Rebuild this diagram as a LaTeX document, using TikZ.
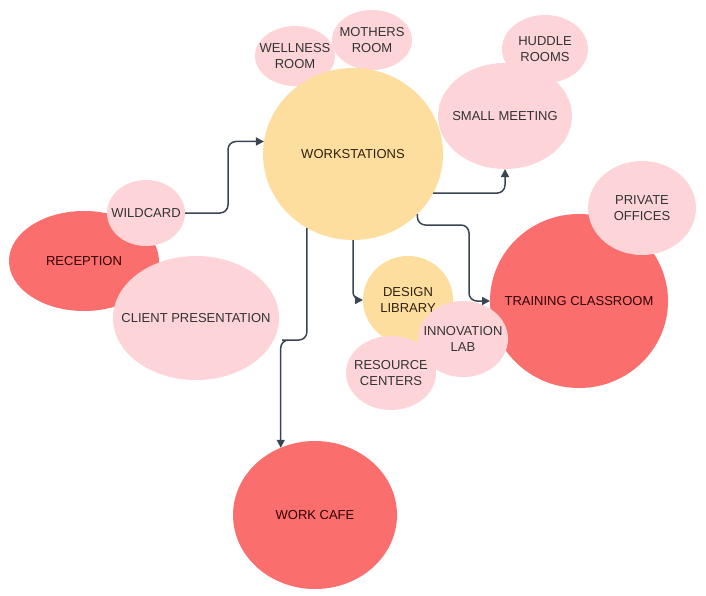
\documentclass[tikz,border=0pt]{standalone}
\usepackage{fontspec}
\setmainfont{Liberation Sans}
\usetikzlibrary{shapes.geometric,arrows.meta}
\definecolor{hotred}{HTML}{FA6E6E}
\definecolor{softpink}{HTML}{FDD5D8}
\definecolor{peach}{HTML}{FDDE9F}
\definecolor{linkgray}{HTML}{3B4452}
\tikzset{
  room/.style={ellipse, inner sep=0pt, outer sep=0pt},
  roomtext/.style={align=center, inner sep=0pt, font=\fontsize{13}{16}\selectfont},
  redroom/.style={room, fill=hotred, label={[roomtext, text=black!80!red]center:#1}},
  pinkroom/.style={room, fill=softpink, label={[roomtext, text=black!80]center:#1}},
  peachroom/.style={room, fill=peach, label={[roomtext, text=black!75!brown]center:#1}},
  link/.style={draw=linkgray, line width=1.5pt, rounded corners=8pt, -{Triangle[length=8pt,width=8pt]}}
}
\begin{document}
\begin{tikzpicture}[x=1pt, y=-1pt]
  \useasboundingbox (0,0) rectangle (706,595);
  \node[redroom={RECEPTION}, minimum width=150, minimum height=100] (recep) at (84,261) {};
  \node[pinkroom={WILDCARD}, minimum width=78, minimum height=66] (wild) at (146,213) {};
  \node[pinkroom={CLIENT PRESENTATION}, minimum width=166, minimum height=124] (client) at (196,318) {};
  \node[pinkroom={WELLNESS\\ROOM}, minimum width=80, minimum height=60] (well) at (295,56) {};
  \node[pinkroom={MOTHERS\\ROOM}, minimum width=80, minimum height=60] (moth) at (372,40) {};
  \node[peachroom={WORKSTATIONS}, minimum width=180, minimum height=172] (work) at (353,154) {};
  \node[pinkroom={SMALL MEETING}, minimum width=134, minimum height=106] (small) at (505,116) {};
  \node[pinkroom={HUDDLE\\ROOMS}, minimum width=86, minimum height=68] (huddle) at (545,49) {};
  \node[redroom={TRAINING CLASSROOM}, minimum width=178, minimum height=174] (train) at (579,301) {};
  \node[pinkroom={PRIVATE\\OFFICES}, minimum width=108, minimum height=94] (priv) at (642,208) {};
  \node[peachroom={DESIGN\\LIBRARY}, minimum width=90, minimum height=88] (lib) at (408,300) {};
  \node[pinkroom={RESOURCE\\CENTERS}, minimum width=90, minimum height=74] (res) at (391,373) {};
  \node[pinkroom={INNOVATION\\LAB}, minimum width=90, minimum height=76] (innov) at (463,339) {};
  \node[redroom={WORK CAFE}, minimum width=164, minimum height=148] (cafe) at (315,515) {};
  \draw[link] (wild.east) -| (228,180) |- (work.172);
  \draw[link] (work.-26) -| (small.south);
  \draw[link] (work.-43) |- (469,225) |- (train.west);
  \draw[link] (work.south) |- (lib.west);
  \draw[link] (work.-122) |- (290,340) -| (cafe.117);
\end{tikzpicture}
\end{document}
